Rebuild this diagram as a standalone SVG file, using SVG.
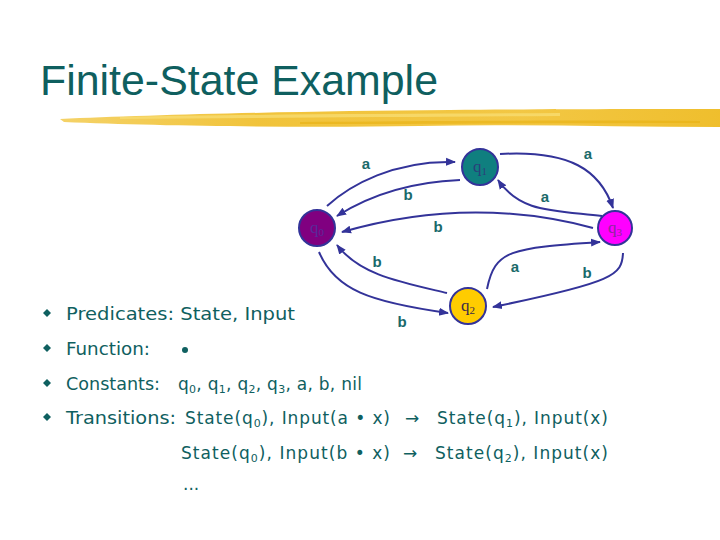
<svg xmlns="http://www.w3.org/2000/svg" width="720" height="540" viewBox="0 0 720 540">
<defs>
<marker id="ah" viewBox="0 0 10 10" refX="9" refY="5" markerWidth="5" markerHeight="5" orient="auto" markerUnits="strokeWidth">
<path d="M0,1 L10,5 L0,9 Z" fill="#333399"/>
</marker>
<linearGradient id="brush" x1="0" y1="0" x2="1" y2="0">
<stop offset="0" stop-color="#F4D060"/>
<stop offset="0.3" stop-color="#F0C030"/>
<stop offset="0.7" stop-color="#F2C43A"/>
<stop offset="1" stop-color="#EEBB22"/>
</linearGradient>
<style>
.edge{fill:none;stroke:#333399;stroke-width:2;marker-end:url(#ah)}
.node{stroke:#333399;stroke-width:2}
.lbl{font-family:"Liberation Sans",Arial,sans-serif;font-size:15px;font-weight:bold;fill:#1a6a6a;text-anchor:middle}
.nl{font-family:"Liberation Serif","Times New Roman",serif;font-size:17px;text-anchor:middle}
.body{font-family:"DejaVu Sans","Liberation Sans",sans-serif;font-size:17px;fill:#0f6060}
.sub{font-size:11px}
</style>
</defs>
<rect width="720" height="540" fill="#ffffff"/>
<text x="40" y="95" font-family="'Liberation Sans',Arial,sans-serif" font-size="43" fill="#0f5f5f" textLength="398" lengthAdjust="spacingAndGlyphs">Finite-State Example</text>
<g id="brushstroke">
<path d="M60,119 C150,115 300,111 450,110 C560,109 650,109 720,109 L720,127 C620,127 520,124 420,126 C300,128 160,126 64,122 Z" fill="url(#brush)" opacity="0.95"/>
<path d="M120,117 C250,114 400,114 560,113 L560,116 C400,117 260,118 120,119 Z" fill="#F8DC70" opacity="0.8"/>
<path d="M300,122 C420,121 560,120 700,121 L700,123 C560,123 420,124 300,124 Z" fill="#E8B010" opacity="0.6"/>
</g>
<g id="connectors">
<path class="edge" d="M327,206 C350,185 395,160 455,162"/>
<path class="edge" d="M460,180 C410,182 370,195 337,216"/>
<path class="edge" d="M500,154 C570,150 600,170 613,208"/>
<path class="edge" d="M602,216 C550,210 520,212 498,180"/>
<path class="edge" d="M593,228 Q470,195 342,232"/>
<path class="edge" d="M447,293 C400,282 360,275 337,245"/>
<path class="edge" d="M319,252 C335,290 370,302 448,313"/>
<path class="edge" d="M487,289 C495,250 510,248 600,242"/>
<path class="edge" d="M623,253 C622,275 615,282 493,307"/>
</g>
<g id="edge-labels">
<text class="lbl" x="366" y="169">a</text>
<text class="lbl" x="408" y="200">b</text>
<text class="lbl" x="588" y="159">a</text>
<text class="lbl" x="545" y="202">a</text>
<text class="lbl" x="438" y="232">b</text>
<text class="lbl" x="377" y="267">b</text>
<text class="lbl" x="515" y="272">a</text>
<text class="lbl" x="587" y="278">b</text>
<text class="lbl" x="402" y="327">b</text>
</g>
<g id="q0">
<circle class="node" cx="317" cy="228" r="18" fill="#800080"/>
<text class="nl" x="317" y="233" fill="#5a2a9a">q<tspan class="sub" dy="3">0</tspan></text>
</g>
<g id="q1">
<circle class="node" cx="480" cy="167" r="18" fill="#0f7f7f"/>
<text class="nl" x="480" y="172" fill="#2a3f7a">q<tspan class="sub" dy="3">1</tspan></text>
</g>
<g id="q2">
<circle class="node" cx="468" cy="306" r="18" fill="#FFCC00"/>
<text class="nl" x="468" y="311" fill="#3a2a4a">q<tspan class="sub" dy="3">2</tspan></text>
</g>
<g id="q3">
<circle class="node" cx="615" cy="228" r="17" fill="#FF00FF"/>
<text class="nl" x="615" y="233" fill="#8a2a9a">q<tspan class="sub" dy="3">3</tspan></text>
</g>
<g id="bullets" fill="#0f6060">
<path d="M47,309 L51,313 L47,317 L43,313 Z"/>
<path d="M47,344 L51,348 L47,352 L43,348 Z"/>
<path d="M47,379 L51,383 L47,387 L43,383 Z"/>
<path d="M47,413 L51,417 L47,421 L43,417 Z"/>
</g>
<g id="text-body">
<text class="body" x="66" y="320" textLength="229" lengthAdjust="spacingAndGlyphs">Predicates: State, Input</text>
<text class="body" x="66" y="355" textLength="84" lengthAdjust="spacingAndGlyphs">Function:</text>
<circle cx="185" cy="350" r="3" fill="#0f6060"/>
<text class="body" x="66" y="390" textLength="94" lengthAdjust="spacingAndGlyphs">Constants:</text>
<text class="body" x="178" y="390" textLength="184" lengthAdjust="spacing">q<tspan class="sub" dy="3">0</tspan><tspan dy="-3">, q</tspan><tspan class="sub" dy="3">1</tspan><tspan dy="-3">, q</tspan><tspan class="sub" dy="3">2</tspan><tspan dy="-3">, q</tspan><tspan class="sub" dy="3">3</tspan><tspan dy="-3">, a, b, nil</tspan></text>
<text class="body" x="66" y="424" textLength="110" lengthAdjust="spacingAndGlyphs">Transitions:</text>
<text class="body" x="185" y="424" textLength="205" lengthAdjust="spacing">State(q<tspan class="sub" dy="3">0</tspan><tspan dy="-3">), Input(a • x)</tspan></text>
<text class="body" x="405" y="424">→</text>
<text class="body" x="437" y="424" textLength="171" lengthAdjust="spacing">State(q<tspan class="sub" dy="3">1</tspan><tspan dy="-3">), Input(x)</tspan></text>
<text class="body" x="181" y="459" textLength="209" lengthAdjust="spacing">State(q<tspan class="sub" dy="3">0</tspan><tspan dy="-3">), Input(b • x)</tspan></text>
<text class="body" x="403" y="459">→</text>
<text class="body" x="435" y="459" textLength="173" lengthAdjust="spacing">State(q<tspan class="sub" dy="3">2</tspan><tspan dy="-3">), Input(x)</tspan></text>
<text class="body" x="183" y="490">...</text>
</g>
</svg>
